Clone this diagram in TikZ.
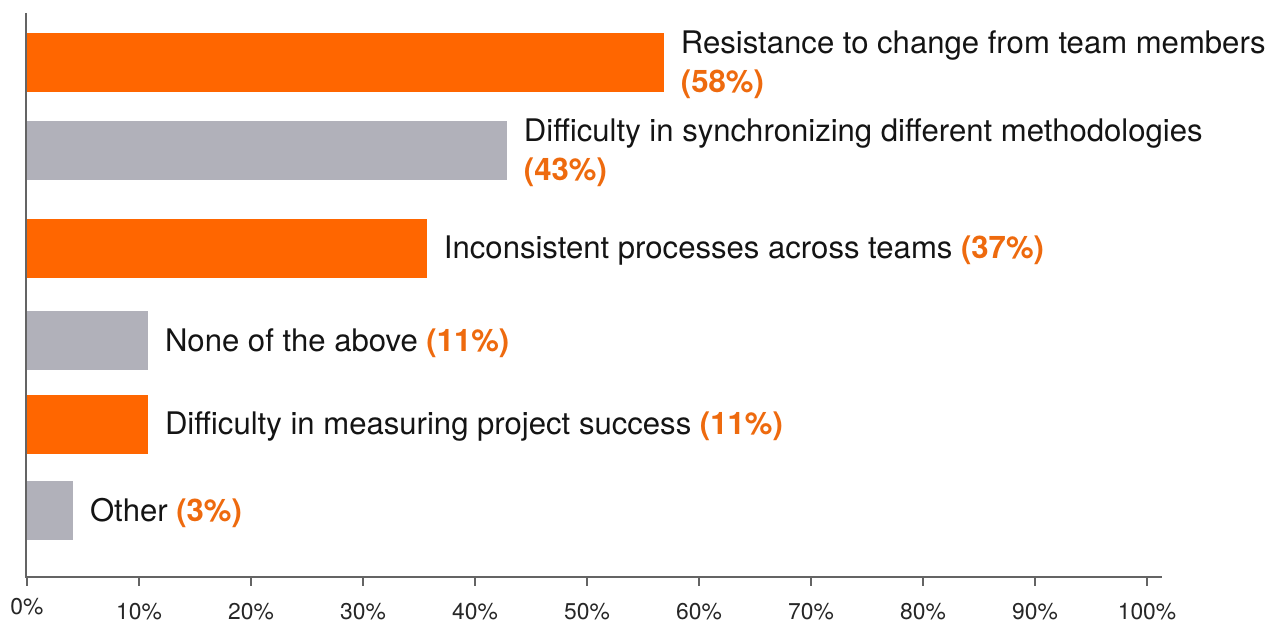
\documentclass[tikz,border=0pt]{standalone}
\usepackage{fontspec}
\setmainfont{TeX Gyre Heros}
\usetikzlibrary{positioning}
\definecolor{barorange}{HTML}{FF6600}
\definecolor{bargrey}{HTML}{B1B1BA}
\definecolor{pctorange}{HTML}{EE6A0E}
\definecolor{axisgrey}{HTML}{646464}
\newcommand{\pct}[1]{\textcolor{pctorange}{\bfseries(#1\%)}}

\begin{document}
\begin{tikzpicture}[x=0.02cm, y=-0.02cm,
bar/.style={anchor=west, inner sep=0pt, minimum height=1.18cm},
obar/.style={bar, fill=barorange},
gbar/.style={bar, fill=bargrey},
lbl/.style={right=0.32cm of #1, yshift=-0.05cm, inner sep=0pt, align=left,
  text=black!92, font=\fontsize{17.7}{22}\selectfont},
axis/.style={draw=axisgrey, line width=1.7pt},
ticklbl/.style={inner sep=0pt, text=black!85, font=\fontsize{13}{15}\selectfont}]
\useasboundingbox (0,0) rectangle (1286,625);
% bars
\node[obar, minimum width=12.74cm] (b1) at (27,62.5) {};
\node[gbar, minimum width=9.6cm] (b2) at (27,150.5) {};
\node[obar, minimum width=8.0cm] (b3) at (27,248.5) {};
\node[gbar, minimum width=2.42cm] (b4) at (27,340.5) {};
\node[obar, minimum width=2.42cm] (b5) at (27,424.5) {};
\node[gbar, minimum width=0.92cm] (b6) at (27,510.5) {};
% labels
\node[lbl=b1] (l1) {Resistance to change from team members\\\pct{58}};
\node[lbl=b2] (l2) {Difficulty in synchronizing different methodologies\\\pct{43}};
\node[lbl=b3] (l3) {Inconsistent processes across teams \pct{37}};
\node[lbl=b4] (l4) {None of the above \pct{11}};
\node[lbl=b5] (l5) {Difficulty in measuring project success \pct{11}};
\node[lbl=b6] (l6) {Other \pct{3}};
% axes
\coordinate (top) at (26,13);
\coordinate (origin) at (26,577);
\coordinate (end) at (1162,577);
\draw[axis] (top) -- (origin) -- (end);
\foreach \p in {0,10,...,100}
  \draw[axis, line width=1.5pt] (27+11.2*\p,577) -- ++(0,9);
\node[ticklbl] (t0) at (27,607) {0\%};
\foreach \p in {10,20,...,100}
  \node[ticklbl] (t\p) at (27+11.2*\p,611.5) {\p\%};
\end{tikzpicture}
\end{document}
